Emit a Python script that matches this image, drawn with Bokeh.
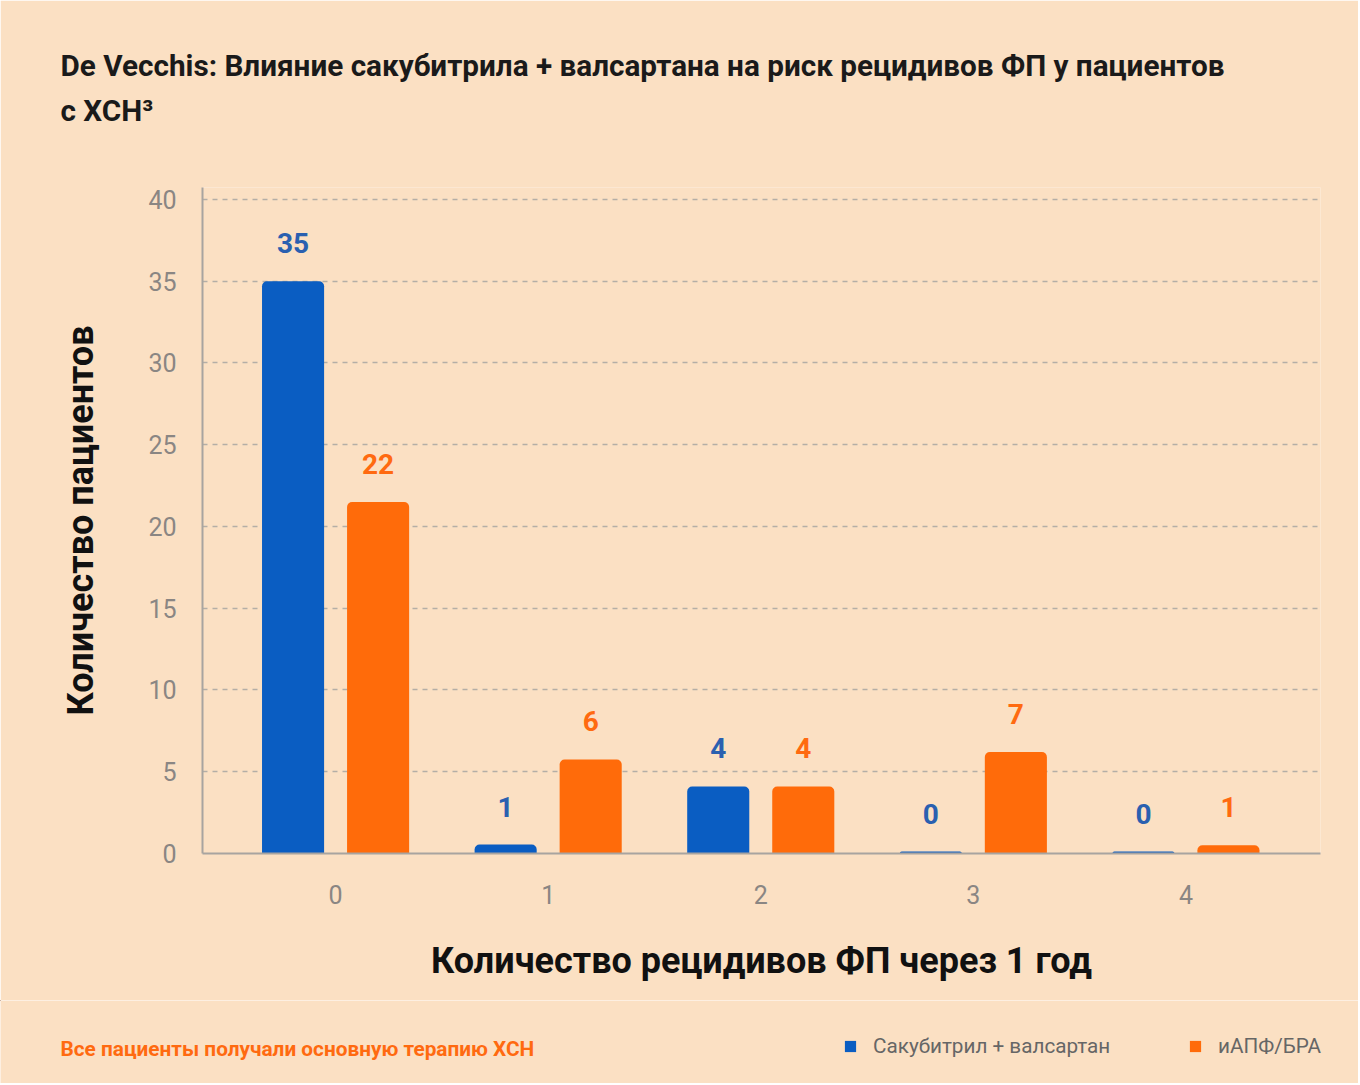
from bokeh.plotting import figure
from bokeh.models import (ColumnDataSource, LabelSet, Label, Range1d, FixedTicker,
                          Legend, LegendItem, Title)
from bokeh.layouts import column
from bokeh.core.properties import value
from bokeh.embed import file_html
from bokeh.resources import INLINE

# ---- data ----
categories = [0, 1, 2, 3, 4]
category_labels = ["0", "1", "2", "3", "4"]
series_names = ["Сакубитрил + валсартан", "иАПФ/БРА"]
# bar heights as drawn in the picture
sacubitril_heights = [35, 0.55, 4.1, 0.12, 0.12]
acei_heights = [21.5, 5.75, 4.1, 6.2, 0.5]
# value labels shown above the bars
sacubitril_labels = ["35", "1", "4", "0", "0"]
acei_labels = ["22", "6", "4", "7", "1"]
y_ticks = [0, 5, 10, 15, 20, 25, 30, 35, 40]

title_line1 = "De Vecchis: Влияние сакубитрила + валсартана на риск рецидивов ФП у пациентов"
title_line2 = "с ХСН³"
y_title = "Количество пациентов"
x_title = "Количество рецидивов ФП через 1 год"
footnote = "Все пациенты получали основную терапию ХСН"

# ---- styles ----
BG = "#FBE0C3"
BLUE = "#0A5DC2"
ORANGE = "#FF6B0A"
BLUE_TXT = "#2A60B0"
ORANGE_TXT = "#FF6A10"
GRAY_TXT = "#8A8683"
FONT = "Roboto"

W = 1358
H1 = 1000
H2 = 83
FL, FT, FR, FB = 202, 187, 1320, 853  # frame edges in page pixels

p = figure(width=W, height=H1, output_backend="svg", toolbar_location=None,
           x_range=Range1d(-0.626, 4.633), y_range=Range1d(0, 40.73),
           min_border_left=FL, min_border_right=W - FR, min_border_top=FT,
           min_border_bottom=H1 - FB)
p.frame_align = False
p.background_fill_color = BG
p.border_fill_color = BG
p.outline_line_color = None

# titles: a blank spacer nearest the frame, then the two title lines
p.add_layout(Title(text=" ", text_font=FONT, text_font_size="10px", standoff=47,
                   text_color=BG), "above")
p.add_layout(Title(text=title_line2, align="left", offset=60 - FL, standoff=0,
                   text_font=FONT, text_font_size="29.7px", text_font_style="bold",
                   text_color="#1A1A1A"), "above")
p.add_layout(Title(text=title_line1, align="left", offset=60 - FL, standoff=15,
                   text_font=FONT, text_font_size="29.7px", text_font_style="bold",
                   text_color="#1A1A1A"), "above")

off = 0.2
bw = 0.292
blue_x = [c - off for c in categories]
orange_x = [c + off for c in categories]

src_b = ColumnDataSource(dict(x=blue_x, top=sacubitril_heights, label=sacubitril_labels))
src_o = ColumnDataSource(dict(x=orange_x, top=acei_heights, label=acei_labels))

rb = p.vbar(x="x", top="top", width=bw, source=src_b, fill_color=BLUE, line_color=None,
            border_radius=(5, 5, 0, 0))
ro = p.vbar(x="x", top="top", width=bw, source=src_o, fill_color=ORANGE, line_color=None,
            border_radius=(5, 5, 0, 0))

p.add_layout(LabelSet(x="x", y="top", text="label", source=src_b, y_offset=28,
                      text_align="center", text_baseline="alphabetic",
                      text_font=value(FONT), text_font_size="28px", text_font_style="bold",
                      text_color=BLUE_TXT))
p.add_layout(LabelSet(x="x", y="top", text="label", source=src_o, y_offset=28,
                      text_align="center", text_baseline="alphabetic",
                      text_font=value(FONT), text_font_size="28px", text_font_style="bold",
                      text_color=ORANGE_TXT))

# grid
p.xgrid.grid_line_color = None
p.ygrid.ticker = FixedTicker(ticks=y_ticks)
p.ygrid.grid_line_color = "#B4AEA6"
p.ygrid.grid_line_dash = "5 5"
p.ygrid.grid_line_width = 1.5

# y axis
p.yaxis.ticker = FixedTicker(ticks=y_ticks)
p.yaxis.axis_line_color = "#A8A4A0"
p.yaxis.axis_line_width = 2
p.yaxis.major_tick_line_color = None
p.yaxis.minor_tick_line_color = None
p.yaxis.major_label_standoff = 20
p.yaxis.major_label_text_font = FONT
p.yaxis.major_label_text_font_size = "25px"
p.yaxis.major_label_text_color = GRAY_TXT
p.yaxis.axis_label = y_title
p.yaxis.axis_label_text_font = FONT
p.yaxis.axis_label_text_font_size = "36px"
p.yaxis.axis_label_text_font_style = "bold"
p.yaxis.axis_label_text_color = "#111111"
p.yaxis.axis_label_standoff = 43

# x axis
p.xaxis.ticker = FixedTicker(ticks=categories)
p.xaxis.major_label_overrides = {c: t for c, t in zip(categories, category_labels)}
p.xaxis.axis_line_color = "#A8A4A0"
p.xaxis.axis_line_width = 2
p.xaxis.major_tick_line_color = None
p.xaxis.minor_tick_line_color = None
p.xaxis.major_label_standoff = 25
p.xaxis.major_label_text_font = FONT
p.xaxis.major_label_text_font_size = "25px"
p.xaxis.major_label_text_color = GRAY_TXT
p.xaxis.axis_label = x_title
p.xaxis.axis_label_text_font = FONT
p.xaxis.axis_label_text_font_size = "36px"
p.xaxis.axis_label_text_font_style = "bold"
p.xaxis.axis_label_text_color = "#111111"
p.xaxis.axis_label_standoff = 33

# ---- footer: note + legend ----
# ranges lie away from the bars, so the legend proxy bars stay out of view
f = figure(width=W, height=H2, output_backend="svg", toolbar_location=None,
           x_range=Range1d(100, 101), y_range=Range1d(-200, -199),
           x_axis_type=None, y_axis_type=None, min_border=0)
f.frame_align = False
f.background_fill_color = BG
f.border_fill_color = BG
f.outline_line_color = None
f.xgrid.grid_line_color = None
f.ygrid.grid_line_color = None

row_y = H2 - 48  # row centre, measured up from the footer bottom
f.add_layout(Label(x=60, y=row_y, x_units="screen", y_units="screen", text=footnote,
                   text_font=FONT, text_font_size="20.8px", text_font_style="bold",
                   text_color=ORANGE_TXT, text_baseline="middle", text_align="left"))

proxy_b = f.vbar(x="x", top="top", width=bw, source=src_b, fill_color=BLUE, line_color=None)
proxy_o = f.vbar(x="x", top="top", width=bw, source=src_o, fill_color=ORANGE, line_color=None)
for r, name, gx in [(proxy_b, series_names[0], 843), (proxy_o, series_names[1], 1188)]:
    lg = Legend(items=[LegendItem(label=name, renderers=[r])],
                location=(gx, row_y - 10), orientation="horizontal",
                glyph_width=14, glyph_height=14, label_height=20, label_standoff=16,
                padding=0, margin=0, spacing=0, border_line_color=None,
                background_fill_alpha=0, label_text_font=FONT,
                label_text_font_size="20.7px", label_text_color="#666666")
    f.add_layout(lg)

layout = column(p, f, spacing=0)
open("out.html", "w").write(file_html(layout, INLINE))
